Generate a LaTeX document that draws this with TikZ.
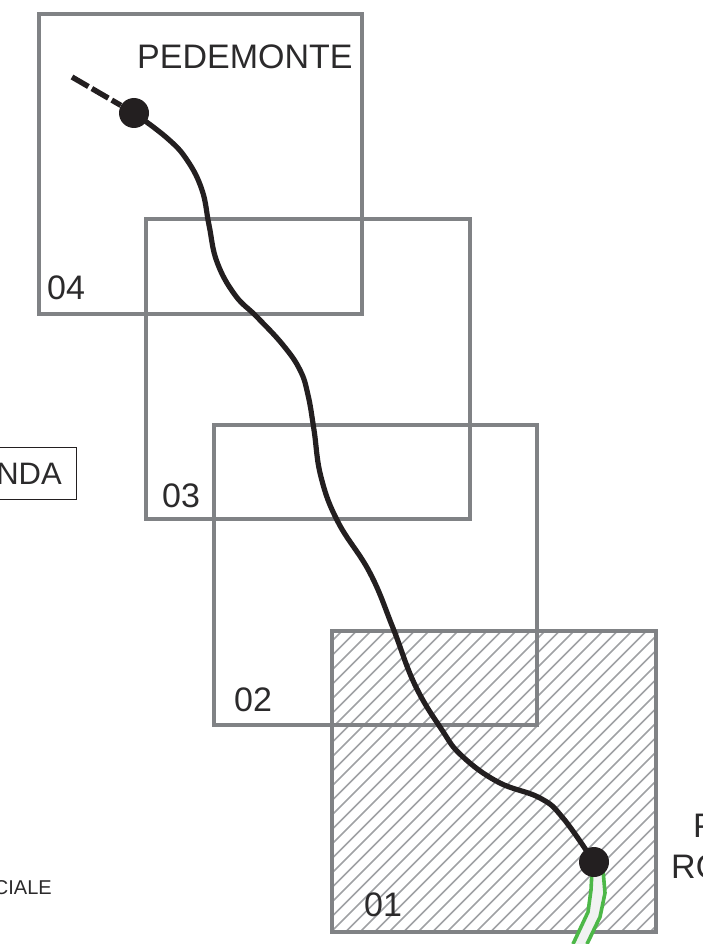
\documentclass[tikz,border=0pt]{standalone}
\usepackage{fontspec}
\setmainfont{Liberation Sans}
\definecolor{framegray}{HTML}{808285}
\definecolor{hatchgray}{HTML}{9FA1A4}
\definecolor{inkblack}{HTML}{231F20}
\definecolor{routegreen}{HTML}{4DB848}
\definecolor{pinkedge}{HTML}{C9A9AE}
\definecolor{labelink}{HTML}{2B2A2B}
\definecolor{spurfill}{HTML}{F1F2F2}
\tikzset{
  frame/.style={draw=framegray,line width=4pt,fill=none},
  biglabel/.style={font=\fontsize{34}{34}\selectfont,text=labelink,inner sep=0pt,anchor=base west},
  route/.style={draw=inkblack,line width=5.2pt,line join=round},
  stopdot/.style={circle,fill=inkblack,minimum size=30pt,inner sep=0pt},
  spur/.style={draw=routegreen,line width=3.6pt,line join=round},
  hatchline/.style={draw=hatchgray,line width=1.5pt}
}
\begin{document}
\begin{tikzpicture}[x=1pt,y=-1pt]
\useasboundingbox (0,0) rectangle (702,944);
% hatched sheet 01
\begin{scope}
  \clip (332,631) rectangle (656,932);
  \foreach \k in {0,14.5,...,700} {
    \draw[hatchline] (332+\k-340,952) -- (332+\k,612);
  }
\end{scope}
% sheets
\draw[frame] (39,14) rectangle (362,314);
\draw[frame] (146,219) rectangle (470,519);
\draw[frame] (214,425) rectangle (537,725);
\draw[draw=pinkedge,line width=4.8pt] (332,631) rectangle (656,932);
\draw[frame] (332,631) rectangle (656,932);
% green spur, under the stop
\coordinate (spurLend) at (573,944);
\coordinate (spurRend) at (587,944);
\fill[spurfill] (591,870) -- (591,890) -- (588,912) -- (spurLend) -- (spurRend) -- (600,917) -- (605,893) -- (603,870) -- cycle;
\draw[spur] (592,870) -- (591,890) -- (588,912) -- (spurLend);
\draw[spur] (603,870) -- (605,893) -- (600,917) -- (spurRend);
% stops
\node[stopdot] (pede) at (134,113) {};
\node[stopdot] (port) at (594,862) {};
\coordinate (tail) at (72,77);
% route
\draw[route] plot[smooth,tension=0.7] coordinates {(pede) (167,138) (187,160) (202,190) (209,225) (217,262) (235,295) (257,317) (283,345) (300,370) (308,395) (314,430) (321,477) (338,522) (370,573) (393,628) (415,685) (442,730) (462,756) (498,782) (540,798) (563,818) (port)};
\draw[draw=inkblack,line width=5.4pt,dash pattern=on 19pt off 4pt] (tail) -- (pede);
% labels
\node[biglabel] (lp) at (137,69) {PEDEMONTE};
\node[biglabel] (l4) at (47,299) {04};
\node[biglabel] (l3) at (162,507) {03};
\node[biglabel] (l2) at (234,711) {02};
\node[biglabel] (l1) at (364,916) {01};
\node[biglabel] (lr1) at (693,837) {P};
\node[biglabel] (lr2) at (671,878) {RO};
% clipped legend
\draw[draw=inkblack,line width=1pt] (-5,447) -- (76,447) -- (76,499) -- (-5,499);
\node[font=\fontsize{31}{31}\selectfont,text=labelink,inner sep=0pt,anchor=base east] (lnda) at (62,484) {NDA};
\node[font=\fontsize{20}{20}\selectfont,text=labelink,inner sep=0pt,anchor=base east] (lcia) at (52,894) {CIALE};
\end{tikzpicture}
\end{document}
